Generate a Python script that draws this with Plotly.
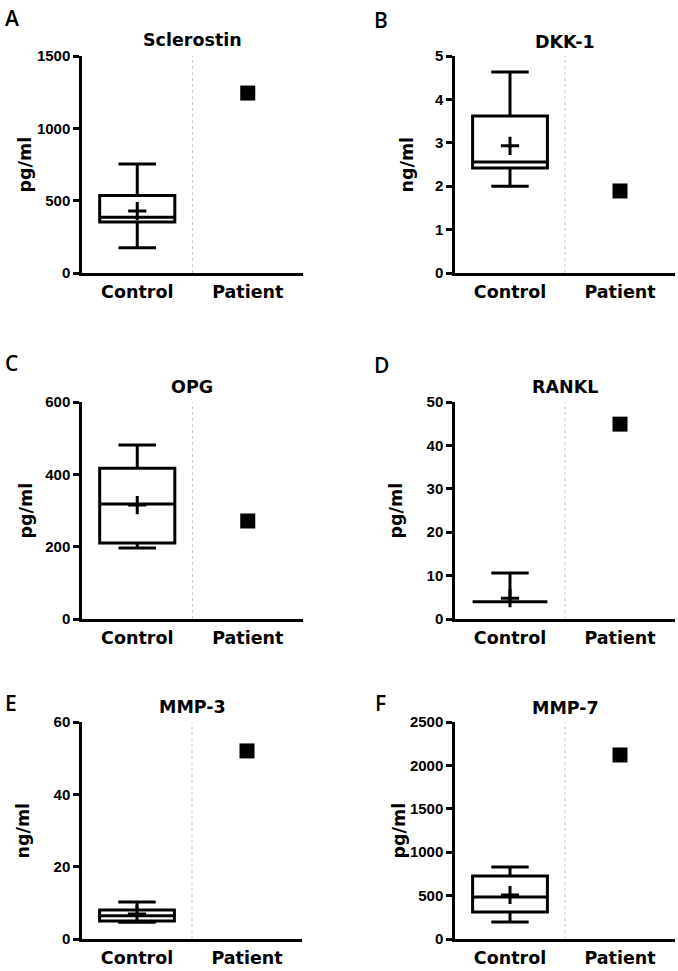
import plotly.graph_objects as go

W, H = 678, 971

categories = ["Control", "Patient"]
panel_letters = ["A", "B", "C", "D", "E", "F"]
titles = ["Sclerostin", "DKK-1", "OPG", "RANKL", "MMP-3", "MMP-7"]
units = ["pg/ml", "ng/ml", "pg/ml", "pg/ml", "ng/ml", "pg/ml"]

ctrl_min = [175, 2.0, 196, 4.0, 4.6, 196]
ctrl_q1 = [352, 2.42, 210, 4.0, 5.0, 311]
ctrl_median = [385, 2.56, 318, 4.0, 6.4, 484]
ctrl_q3 = [535, 3.62, 417, 4.0, 8.0, 726]
ctrl_max = [753, 4.63, 481, 10.6, 10.2, 829]
ctrl_mean = [428, 2.93, 315, 4.8, 6.9, 507]
patient_values = [1244, 1.89, 271, 44.9, 52.0, 2120]

y_max = [1500, 5, 600, 50, 60, 2500]
y_dtick = [500, 1, 200, 10, 20, 500]

plot_boxes = [
    (82, 303, 56, 273), (455, 675, 56, 273),
    (82, 303, 402, 619), (455, 675, 402, 619),
    (82, 302, 722, 939), (455, 675, 722, 939),
]
letter_pos = [(3, 18), (372, 20), (3, 363), (372, 365), (3, 703), (373, 703)]
title_y = [40, 42, 387, 387, 707, 708]
ytitle_x = [25, 407, 25, 395, 22, 398]


def px(x):
    return x / W


def py(y):
    return 1 - y / H


fig = go.Figure()
layout = dict(
    width=W, height=H, autosize=False,
    margin=dict(l=0, r=0, t=0, b=0, pad=0, autoexpand=False),
    paper_bgcolor="white", plot_bgcolor="white", showlegend=False,
    shapes=[], annotations=[],
)

tick_font = dict(family="Liberation Sans, Arial", size=15, color="black", weight="bold")
cat_font = dict(family="DejaVu Sans", size=17.5, color="black", weight="bold")
title_font = dict(family="DejaVu Sans", size=17.5, color="black", weight="bold")

for i in range(6):
    n = "" if i == 0 else str(i + 1)
    xa, ya = "x" + n, "y" + n
    l, r, t, b = plot_boxes[i]

    fig.add_trace(go.Box(
        x=[categories[0]], q1=[ctrl_q1[i]], median=[ctrl_median[i]], q3=[ctrl_q3[i]],
        lowerfence=[ctrl_min[i]], upperfence=[ctrl_max[i]],
        width=0.68, whiskerwidth=0.5, fillcolor="white",
        line=dict(color="black", width=3), boxpoints=False,
        xaxis=xa, yaxis=ya, hoverinfo="skip",
    ))
    fig.add_trace(go.Scatter(
        x=[categories[0]], y=[ctrl_mean[i]], mode="markers",
        marker=dict(symbol="cross-thin", size=13, line=dict(color="black", width=3)),
        xaxis=xa, yaxis=ya, hoverinfo="skip",
    ))
    fig.add_trace(go.Scatter(
        x=[categories[1]], y=[patient_values[i]], mode="markers",
        marker=dict(symbol="square", size=15, color="black"),
        xaxis=xa, yaxis=ya, hoverinfo="skip",
    ))

    layout["xaxis" + n] = dict(
        domain=[px(l), px(r)], anchor=ya, type="category",
        categoryorder="array", categoryarray=categories,
        range=[-0.5, 1.5], showline=True, linecolor="black", linewidth=2.5,
        ticks="", showgrid=False, zeroline=False, tickfont=cat_font,
        ticklabelstandoff=1, fixedrange=True, automargin=False,
    )
    layout["yaxis" + n] = dict(
        domain=[py(b), py(t)], anchor=xa, range=[0, y_max[i]], dtick=y_dtick[i],
        tick0=0, showline=True, linecolor="black", linewidth=2.5,
        ticks="outside", ticklen=6, tickwidth=2.5, tickcolor="black",
        showgrid=False, zeroline=False, tickfont=tick_font, fixedrange=True,
        automargin=False,
    )
    layout["shapes"].append(dict(
        type="line", xref=xa, yref=ya + " domain", x0=0.5, x1=0.5, y0=0, y1=1,
        line=dict(color="#c8c8c8", width=1, dash="dot"), layer="below",
    ))
    lx, ly = letter_pos[i]
    layout["annotations"].append(dict(
        text=panel_letters[i], xref="paper", yref="paper", x=px(lx), y=py(ly),
        xanchor="left", yanchor="middle", showarrow=False,
        font=dict(family="Open Sans", size=21, color="black", weight=600),
    ))
    layout["annotations"].append(dict(
        text=titles[i], xref="paper", yref="paper", x=px((l + r) / 2), y=py(title_y[i]),
        xanchor="center", yanchor="middle", showarrow=False, font=title_font,
    ))
    layout["annotations"].append(dict(
        text=units[i], xref="paper", yref="paper", x=px(ytitle_x[i]), y=py((t + b) / 2),
        xanchor="center", yanchor="middle", showarrow=False, textangle=-90,
        font=title_font,
    ))

fig.update_layout(**layout)
fig.write_html(
    "out.html",
    post_script="document.body.style.margin='0';document.body.style.overflow='hidden';",
    config={"displayModeBar": False},
)
